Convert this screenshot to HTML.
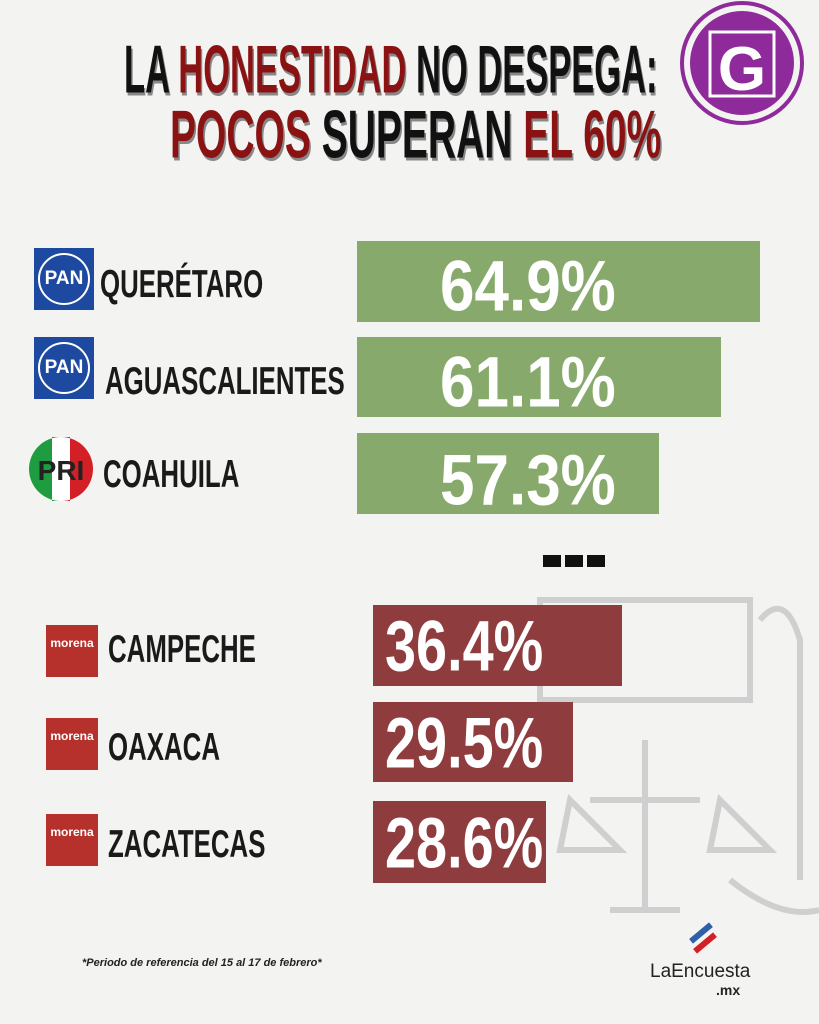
<!DOCTYPE html>
<html><head><meta charset="utf-8"><style>
body{margin:0;width:819px;height:1024px;background:#f3f3f1;position:relative;overflow:hidden;font-family:"Liberation Sans Narrow","Liberation Sans",sans-serif;font-weight:bold}
.a{position:absolute}
.t{white-space:nowrap;transform-origin:left top;line-height:1}
.bar{position:absolute}
.pct{position:absolute;color:#fff;font-size:62px;line-height:1;white-space:nowrap;transform:scale(1,1.15);transform-origin:left top}
.pr{transform:scale(0.9,1.15)}
.lab{position:absolute;font-size:34px;line-height:1;color:#1a1a1a;white-space:nowrap;transform:scale(0.76,1.15);transform-origin:left top}
.pan{position:absolute;width:60px;height:62px;background:#1d4aa0}
.pan div{position:absolute;left:4px;top:5px;width:48px;height:48px;border:2px solid #fff;border-radius:50%;background:#1d4aa0;color:#fff;font-size:19px;text-align:center;line-height:48px}
.mor{position:absolute;width:52px;height:52px;background:#b7312c;color:#fff;font-size:12px;text-align:center;line-height:36px;overflow:hidden}
.r{color:#8a1212}
</style></head><body>
<svg class="a" style="left:530px;top:580px" width="289" height="360" fill="none" stroke="#cfcfcf" stroke-width="6"><path d="M10 20 H220 V120 H10Z"/><path d="M230 40 Q255 10 270 60 V300"/><path d="M60 220 H170 M115 160 V330 M80 330 H150 M40 220 L30 270 H90 Z M190 220 L180 270 H240Z"/><path d="M200 300 Q250 340 289 330"/></svg>

<div class="a t" style="left:124px;top:36px;font-size:50px;transform:scale(0.69,1.35);color:#111;text-shadow:2px 2px 0 #888">LA <span class="r">HONESTIDAD</span> NO DESPEGA:</div>
<div class="a t" style="left:170px;top:101px;font-size:50px;transform:scale(0.78,1.35);color:#111;text-shadow:2px 2px 0 #888"><span class="r">POCOS</span> SUPERAN <span class="r">EL 60%</span></div>
<svg class="a" style="left:672px;top:0" width="140" height="130"><circle cx="70" cy="63" r="60" fill="none" stroke="#8e2a9a" stroke-width="4"/><circle cx="70" cy="63" r="52" fill="#8e2a9a"/><rect x="38" y="32" width="64" height="64" fill="none" stroke="#fff" stroke-width="3"/><text x="70" y="90" font-size="62" fill="#fff" text-anchor="middle" font-family="Liberation Sans" font-weight="bold">G</text></svg>

<div class="pan" style="left:34px;top:248px"><div>PAN</div></div>
<div class="lab" style="left:100px;top:265px">QUERÉTARO</div>
<div class="pan" style="left:34px;top:337px"><div>PAN</div></div>
<div class="lab" style="left:105px;top:362px">AGUASCALIENTES</div>
<svg class="a" style="left:26px;top:436px" width="70" height="66"><circle cx="35" cy="33" r="32" fill="#fff"/><path d="M35 1 A32 32 0 0 0 35 65 L26 65 L26 1Z" fill="#1f9c3f"/><path d="M35 1 A32 32 0 0 1 35 65 L44 65 L44 1Z" fill="#d32027"/><text x="35" y="44" font-size="28" text-anchor="middle" font-family="Liberation Sans" font-weight="bold" fill="#222">PRI</text></svg>
<div class="lab" style="left:103px;top:455px">COAHUILA</div>

<div class="bar" style="left:357px;top:241px;width:403px;height:81px;background:#87aa6c"></div>
<div class="pct" style="left:440px;top:252px">64.9%</div>
<div class="bar" style="left:357px;top:337px;width:364px;height:80px;background:#87aa6c"></div>
<div class="pct" style="left:440px;top:348px">61.1%</div>
<div class="bar" style="left:357px;top:433px;width:302px;height:81px;background:#87aa6c"></div>
<div class="pct" style="left:440px;top:446px">57.3%</div>

<div class="a" style="left:543px;top:555px;width:62px;height:12px;background:repeating-linear-gradient(90deg,#111 0 18px,transparent 18px 22px)"></div>

<div class="mor" style="left:46px;top:625px">morena</div>
<div class="lab" style="left:108px;top:630px">CAMPECHE</div>
<div class="mor" style="left:46px;top:718px">morena</div>
<div class="lab" style="left:108px;top:728px">OAXACA</div>
<div class="mor" style="left:46px;top:814px">morena</div>
<div class="lab" style="left:108px;top:825px">ZACATECAS</div>

<div class="bar" style="left:373px;top:605px;width:249px;height:81px;background:#8e3c3d"></div>
<div class="pct pr" style="left:385px;top:612px">36.4%</div>
<div class="bar" style="left:373px;top:702px;width:200px;height:80px;background:#8e3c3d"></div>
<div class="pct pr" style="left:385px;top:709px">29.5%</div>
<div class="bar" style="left:373px;top:801px;width:173px;height:82px;background:#8e3c3d"></div>
<div class="pct pr" style="left:385px;top:809px">28.6%</div>

<div class="a t" style="left:82px;top:958px;font-size:11px;font-style:italic;color:#222">*Periodo de referencia del 15 al 17 de febrero*</div>
<div class="a t" style="left:650px;top:962px;font-size:19px;color:#222;font-family:'Liberation Sans',sans-serif;font-weight:normal">LaEncuesta</div>
<div class="a t" style="left:716px;top:983px;font-size:14px;color:#222;font-family:'Liberation Sans',sans-serif">.mx</div>
<div class="a" style="left:688px;top:930px;width:26px;height:6px;background:#2f5fa8;transform:rotate(-40deg)"></div>
<div class="a" style="left:692px;top:940px;width:26px;height:6px;background:#d32027;transform:rotate(-40deg)"></div>
</body></html>
